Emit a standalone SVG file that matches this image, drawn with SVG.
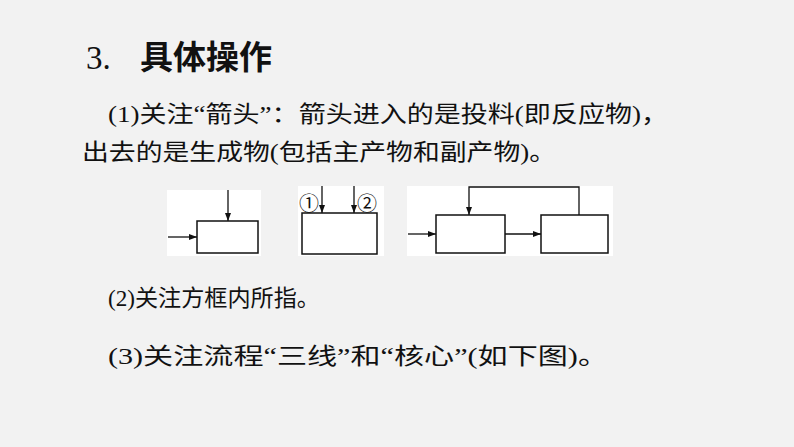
<svg xmlns="http://www.w3.org/2000/svg" width="794" height="447" viewBox="0 0 794 447">
<style>
.t{font-family:"Liberation Serif","Noto Sans CJK SC",serif;font-size:23px;fill:#111}
.b{fill:none;stroke:#111;stroke-width:1.5}
.l{fill:none;stroke:#111;stroke-width:1.3}
.w{fill:#fff}
</style>
<defs><marker id="a" markerWidth="8" markerHeight="6" refX="8" refY="3" orient="auto" markerUnits="userSpaceOnUse"><path d="M0,0L8,3L0,6z" fill="#111"/></marker></defs>
<rect width="794" height="447" fill="#f2f2f2"/>
<text x="86" y="69" font-family="'Liberation Serif','Noto Sans CJK SC',serif" font-size="33" fill="#111"><tspan>3.</tspan><tspan x="140" font-weight="bold" font-family="'Noto Sans CJK SC',sans-serif">具体操作</tspan></text>
<text class="t" x="108" y="122" textLength="560" lengthAdjust="spacingAndGlyphs">(1)关注“箭头”：箭头进入的是投料(即反应物)，</text>
<text class="t" x="82" y="160" textLength="474" lengthAdjust="spacingAndGlyphs">出去的是生成物(包括主产物和副产物)。</text>
<text class="t" x="108" y="306" textLength="212" lengthAdjust="spacingAndGlyphs">(2)关注方框内所指。</text>
<text class="t" x="108" y="364" textLength="500" lengthAdjust="spacingAndGlyphs">(3)关注流程“三线”和“核心”(如下图)。</text>
<g id="d1"><rect class="w" x="167" y="190" width="94" height="66"/><rect id="n1" class="b" x="197" y="221" width="61" height="32"/></g>
<g id="d2"><rect class="w" x="298" y="186" width="86" height="70"/><rect id="n2" class="b" x="302" y="213" width="75" height="41" stroke-width="2"/>
<text x="299" y="211" font-family="'Noto Sans CJK SC',serif" font-size="20" fill="#111">①</text>
<text x="357" y="211" font-family="'Noto Sans CJK SC',serif" font-size="20" fill="#111">②</text></g>
<g id="d3"><rect class="w" x="407" y="186" width="206" height="70"/><rect id="n3" class="b" x="436" y="215" width="69" height="38"/><rect id="n4" class="b" x="541" y="215" width="67" height="38"/></g>
<g id="connectors">
<path class="l" d="M228,190V221" marker-end="url(#a)"/>
<path class="l" d="M168,237H197" marker-end="url(#a)"/>
<path class="l" d="M322,186V213" marker-end="url(#a)"/>
<path class="l" d="M354,186V213" marker-end="url(#a)"/>
<path class="l" d="M408,234H436" marker-end="url(#a)"/>
<path class="l" d="M505,234H541" marker-end="url(#a)"/>
<path class="l" d="M579,215V187H469V215" marker-end="url(#a)"/>
</g>
</svg>
